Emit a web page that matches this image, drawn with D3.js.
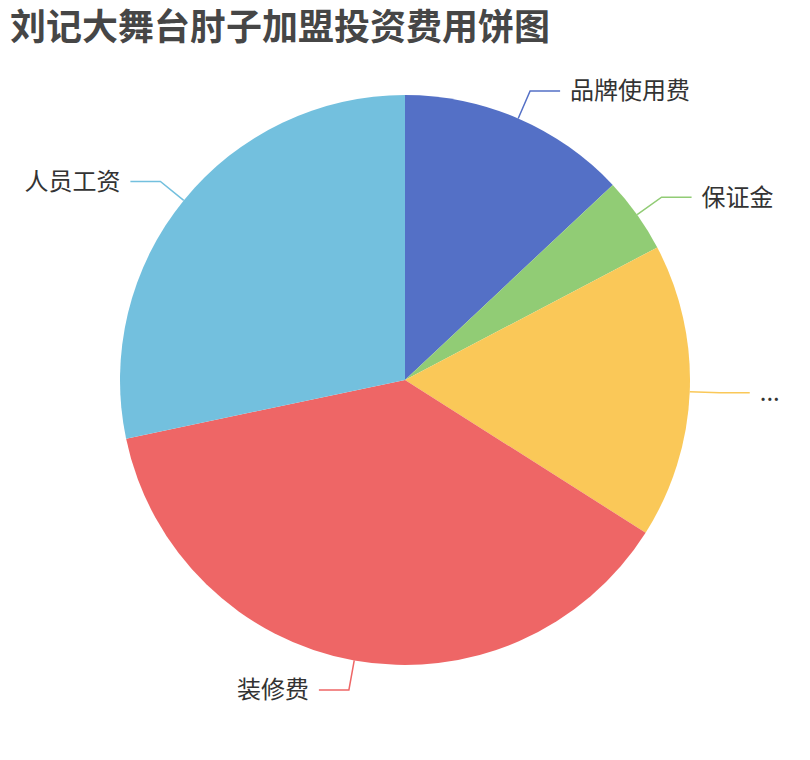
<!DOCTYPE html>
<html>
<head>
<meta charset="utf-8">
<script src="https://cdn.jsdelivr.net/npm/d3@7"></script>
<style>
  body { margin: 0; background: #ffffff; }
</style>
</head>
<body>
<div class="chart"></div>
<script>
var w = 810;
var h = 760;

// data (percent of total)
var names = ["品牌使用费", "保证金", "...", "装修费", "人员工资"];
var values = [13, 4.3, 16.7, 37.7, 28.3];
var colors = ["#5470c6", "#91cc75", "#fac858", "#ee6666", "#73c0de"];

var cx = 405;
var cy = 380;
var radius = 285;
var len1 = 30;
var len2 = 30;

var svg = d3.select(".chart")
    .append("svg")
    .attr("width", w)
    .attr("height", h)
    .style("background", "#ffffff");

svg.append("text")
    .attr("x", 10)
    .attr("y", 40)
    .text("刘记大舞台肘子加盟投资费用饼图")
    .attr("font-family", "'Noto Sans CJK SC', sans-serif")
    .attr("font-weight", "bold")
    .attr("font-size", 36)
    .attr("fill", "#464646");

var pie = d3.pie()
    .sort(null)
    .value(function(d) { return d; });

var arcs = pie(values);

var arc = d3.arc()
    .innerRadius(0)
    .outerRadius(radius);

var edgeArc = d3.arc()
    .innerRadius(radius)
    .outerRadius(radius);

var outArc = d3.arc()
    .innerRadius(radius + len1)
    .outerRadius(radius + len1);

var g = svg.append("g")
    .attr("transform", "translate(" + cx + "," + cy + ")");

g.selectAll("path.slice")
    .data(arcs)
    .enter()
    .append("path")
    .attr("class", "slice")
    .attr("d", arc)
    .attr("fill", function(d, i) { return colors[i]; });

// label lines and labels
arcs.forEach(function(d, i) {
    var p0 = edgeArc.centroid(d);
    var p1 = outArc.centroid(d);
    var right = p1[0] >= 0;
    var p2 = [p1[0] + (right ? len2 : -len2), p1[1]];

    g.append("polyline")
        .attr("points", [p0, p1, p2].map(function(p) { return p.join(","); }).join(" "))
        .attr("fill", "none")
        .attr("stroke", colors[i])
        .attr("stroke-width", 1.5);

    g.append("text")
        .attr("x", p2[0] + (right ? 10 : -10))
        .attr("y", p2[1])
        .attr("dy", "0.35em")
        .attr("text-anchor", right ? "start" : "end")
        .text(names[i])
        .attr("font-family", "'Noto Sans CJK SC', sans-serif")
        .attr("font-size", 24)
        .attr("fill", "#333333");
});
</script>
</body>
</html>
